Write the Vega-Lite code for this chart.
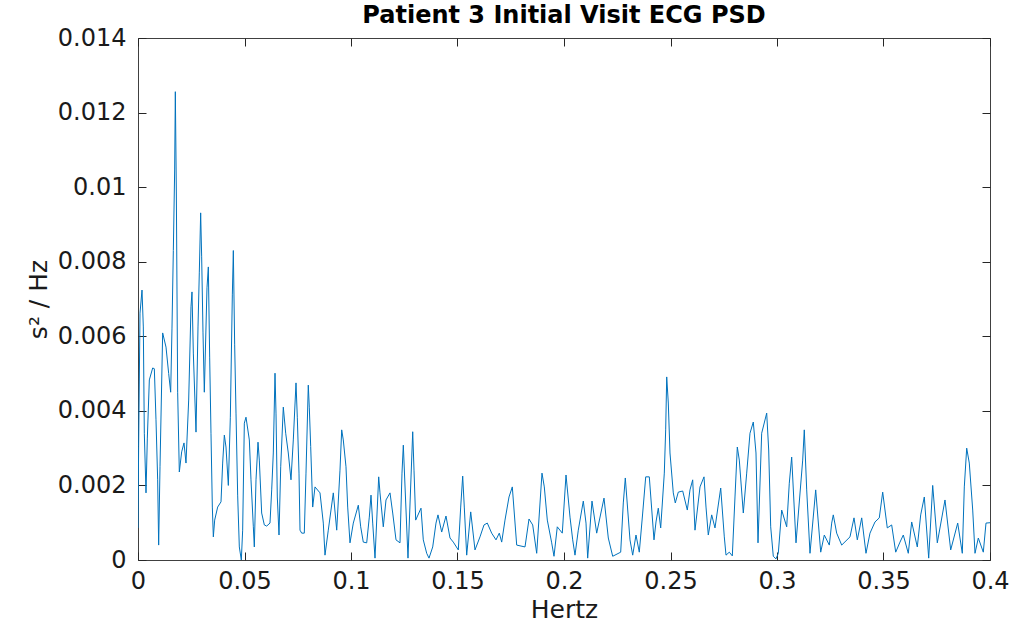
{
  "$schema": "https://vega.github.io/schema/vega-lite/v6.json",
  "width": 852,
  "height": 522,
  "autosize": {"type": "none"},
  "padding": {"left": 138, "top": 38, "right": 23, "bottom": 66},
  "background": "white",
  "title": {"text": "Patient 3 Initial Visit ECG PSD", "fontSize": 24, "fontWeight": "bold", "color": "#000000", "font": "DejaVu Sans", "offset": -2},
  "config": {
    "font": "DejaVu Sans",
    "view": {"stroke": "#404040", "strokeWidth": 1},
    "axis": {"grid": false, "domain": false, "tickSize": -8, "tickColor": "#262626", "tickWidth": 1, "labelFontSize": 24, "labelColor": "#1a1a1a", "titleFontSize": 25, "titleFontWeight": "normal", "titleColor": "#1a1a1a", "labelFont": "DejaVu Sans", "titleFont": "DejaVu Sans"}
  },
  "data": {"values": [
    {"f":0,"p":0.00086},{"f":0.0003,"p":0.00304},{"f":0.00094,"p":0.00662},{"f":0.00188,"p":0.00724},{"f":0.0025,"p":0.00625},{"f":0.00297,"p":0.0034},{"f":0.00376,"p":0.0018},{"f":0.00438,"p":0.00327},{"f":0.00532,"p":0.00483},{"f":0.00689,"p":0.00515},{"f":0.00767,"p":0.00513},{"f":0.00845,"p":0.00376},{"f":0.00923,"p":0.00215},{"f":0.0097,"p":0.0004},{"f":0.01033,"p":0.0025},{"f":0.01158,"p":0.00609},{"f":0.01315,"p":0.00571},{"f":0.0144,"p":0.005},{"f":0.01534,"p":0.0045},{"f":0.01596,"p":0.00622},{"f":0.01659,"p":0.0083},{"f":0.01721,"p":0.01046},{"f":0.01753,"p":0.01256},{"f":0.018,"p":0.00987},{"f":0.01862,"p":0.0045},{"f":0.0194,"p":0.00236},{"f":0.0205,"p":0.0029},{"f":0.0216,"p":0.00314},{"f":0.02253,"p":0.0026},{"f":0.02379,"p":0.00429},{"f":0.02488,"p":0.00679},{"f":0.02535,"p":0.00719},{"f":0.02598,"p":0.00555},{"f":0.02723,"p":0.00343},{"f":0.02817,"p":0.00625},{"f":0.02879,"p":0.00772},{"f":0.02942,"p":0.00931},{"f":0.02989,"p":0.00813},{"f":0.03052,"p":0.00609},{"f":0.03114,"p":0.0045},{"f":0.03177,"p":0.0059},{"f":0.03239,"p":0.0073},{"f":0.03302,"p":0.00786},{"f":0.03365,"p":0.00542},{"f":0.03427,"p":0.0034},{"f":0.0349,"p":0.00142},{"f":0.03537,"p":0.00062},{"f":0.036,"p":0.00107},{"f":0.0374,"p":0.00142},{"f":0.03897,"p":0.00156},{"f":0.03975,"p":0.0026},{"f":0.04053,"p":0.00335},{"f":0.04131,"p":0.00303},{"f":0.04241,"p":0.002},{"f":0.04335,"p":0.00383},{"f":0.04429,"p":0.00711},{"f":0.04476,"p":0.0083},{"f":0.04538,"p":0.00577},{"f":0.04601,"p":0.00394},{"f":0.04679,"p":0.00174},{"f":0.04757,"p":0.00035},{"f":0.04851,"p":0.0},{"f":0.04914,"p":0.0008},{"f":0.04992,"p":0.00367},{"f":0.0507,"p":0.00383},{"f":0.05227,"p":0.00322},{"f":0.05305,"p":0.00215},{"f":0.05415,"p":0.00089},{"f":0.05461,"p":0.00035},{"f":0.0554,"p":0.00215},{"f":0.05634,"p":0.00316},{"f":0.05696,"p":0.00268},{"f":0.05806,"p":0.00126},{"f":0.05931,"p":0.00094},{"f":0.06041,"p":0.00091},{"f":0.06197,"p":0.00099},
    {"f":0.06277,"p":0.00188},{"f":0.06352,"p":0.00287},{"f":0.06432,"p":0.00501},{"f":0.06479,"p":0.00394},{"f":0.0654,"p":0.00169},{"f":0.0662,"p":0.00067},{"f":0.067,"p":0.0025},{"f":0.06822,"p":0.0041},{"f":0.06934,"p":0.0034},{"f":0.07056,"p":0.00287},{"f":0.07183,"p":0.00215},{"f":0.07291,"p":0.00322},{"f":0.07418,"p":0.00475},{"f":0.07479,"p":0.00383},{"f":0.07559,"p":0.00233},{"f":0.07606,"p":0.0008},{"f":0.07685,"p":0.00072},{"f":0.07808,"p":0.00072},{"f":0.07887,"p":0.00233},{"f":0.07995,"p":0.00469},{"f":0.08042,"p":0.0041},{"f":0.08108,"p":0.00304},{"f":0.08202,"p":0.00142},{"f":0.0831,"p":0.00196},{"f":0.08545,"p":0.0018},{"f":0.087,"p":0.00099},{"f":0.08779,"p":0.00013},{"f":0.08934,"p":0.0008},{"f":0.09169,"p":0.0018},{"f":0.09329,"p":0.0008},{"f":0.09483,"p":0.00241},{"f":0.09563,"p":0.00349},{"f":0.09638,"p":0.00322},{"f":0.09765,"p":0.0025},{"f":0.09845,"p":0.00142},{"f":0.09953,"p":0.00046},{"f":0.10108,"p":0.00099},{"f":0.10343,"p":0.00147},{"f":0.10455,"p":0.00089},{"f":0.10577,"p":0.00048},{"f":0.10737,"p":0.00046},{"f":0.10859,"p":0.00115},{"f":0.10939,"p":0.00174},{"f":0.11019,"p":0.00099},{"f":0.11127,"p":0.00005},{"f":0.113,"p":0.00223},{"f":0.11361,"p":0.0018},{"f":0.11516,"p":0.00089},{"f":0.11643,"p":0.00161},{"f":0.11831,"p":0.0018},{"f":0.11958,"p":0.00126},{"f":0.12113,"p":0.00054},{"f":0.123,"p":0.00046},{"f":0.12394,"p":0.00233},{"f":0.12456,"p":0.00308},{"f":0.12676,"p":0.00005},{"f":0.12897,"p":0.00344},{"f":0.12958,"p":0.00241},{"f":0.13037,"p":0.00107},{"f":0.13286,"p":0.00139},{"f":0.13394,"p":0.00054},{"f":0.13554,"p":0.00018},{"f":0.13662,"p":0.00005},{"f":0.13836,"p":0.00035},{"f":0.1399,"p":0.00099},{"f":0.14084,"p":0.00121},{"f":0.14258,"p":0.00075},{"f":0.1446,"p":0.00118},{"f":0.14648,"p":0.00059},{"f":0.14803,"p":0.00048},{"f":0.15038,"p":0.00027},{"f":0.1515,"p":0.00142},{"f":0.15244,"p":0.00225},{"f":0.15319,"p":0.00142},{"f":0.15432,"p":0.00013},{"f":0.1562,"p":0.00129},{"f":0.15821,"p":0.00027},{"f":0.16056,"p":0.00062},{"f":0.16244,"p":0.00094},{"f":0.16399,"p":0.00099},{"f":0.16605,"p":0.00072},{"f":0.16807,"p":0.00054},{"f":0.16962,"p":0.00072},{"f":0.17075,"p":0.00048},{"f":0.1723,"p":0.00107},{"f":0.17418,"p":0.00169},{"f":0.17573,"p":0.00196},{"f":0.17779,"p":0.0004},{"f":0.18169,"p":0.00035},{"f":0.18357,"p":0.0011},{"f":0.1853,"p":0.00094},{"f":0.18718,"p":0.00018},{"f":0.18967,"p":0.00233},{"f":0.19075,"p":0.00196},{"f":0.19216,"p":0.00107},{"f":0.19422,"p":0.00046},{"f":0.1953,"p":0.0001},
    {"f":0.19685,"p":0.00089},{"f":0.1992,"p":0.00072},{"f":0.20094,"p":0.00228},{"f":0.20282,"p":0.00115},{"f":0.20408,"p":0.00054},{"f":0.20516,"p":0.00013},{"f":0.20671,"p":0.0008},{"f":0.20906,"p":0.00158},{"f":0.21033,"p":0.00099},{"f":0.21112,"p":0.00005},{"f":0.21314,"p":0.00158},{"f":0.21535,"p":0.00072},{"f":0.21878,"p":0.00166},{"f":0.2208,"p":0.00059},{"f":0.22286,"p":0.0001},{"f":0.22662,"p":0.00021},{"f":0.22784,"p":0.00153},{"f":0.22878,"p":0.0022},{"f":0.23098,"p":0.00054},{"f":0.23225,"p":0.00013},{"f":0.2338,"p":0.00067},{"f":0.23535,"p":0.00021},{"f":0.23695,"p":0.00126},{"f":0.23836,"p":0.00223},{"f":0.24005,"p":0.00223},{"f":0.24225,"p":0.00054},{"f":0.24319,"p":0.00102},{"f":0.24427,"p":0.00139},{"f":0.2454,"p":0.00086},{"f":0.24709,"p":0.00233},{"f":0.24774,"p":0.00349},{"f":0.24822,"p":0.00491},{"f":0.24897,"p":0.00421},{"f":0.24976,"p":0.00287},{"f":0.25131,"p":0.0018},{"f":0.25225,"p":0.00153},{"f":0.25366,"p":0.00182},{"f":0.25573,"p":0.00185},{"f":0.25789,"p":0.00134},{"f":0.25915,"p":0.00188},{"f":0.26042,"p":0.00215},{"f":0.2615,"p":0.0008},
    {"f":0.26385,"p":0.00196},{"f":0.26573,"p":0.00223},{"f":0.26667,"p":0.00142},{"f":0.26774,"p":0.00067},{"f":0.26934,"p":0.00121},{"f":0.27089,"p":0.00086},{"f":0.27357,"p":0.00193},{"f":0.27526,"p":0.00062},{"f":0.27606,"p":0.00013},{"f":0.27761,"p":0.00021},{"f":0.27902,"p":0.00011},{"f":0.28028,"p":0.00169},{"f":0.28136,"p":0.00303},{"f":0.2823,"p":0.00268},{"f":0.28418,"p":0.00126},{"f":0.28577,"p":0.00233},{"f":0.28732,"p":0.0034},{"f":0.28887,"p":0.0037},{"f":0.29014,"p":0.00287},{"f":0.29108,"p":0.00046},{"f":0.29281,"p":0.0034},{"f":0.29516,"p":0.00394},{"f":0.2961,"p":0.00295},{"f":0.29704,"p":0.00089},{"f":0.29826,"p":0.0001},{"f":0.29953,"p":0.00003},{"f":0.30061,"p":0.00018},{"f":0.3022,"p":0.00134},{"f":0.30455,"p":0.00089},{"f":0.30577,"p":0.00206},{"f":0.30689,"p":0.00276},{"f":0.30892,"p":0.00046},{"f":0.31206,"p":0.00268},{"f":0.31281,"p":0.00349},{"f":0.31394,"p":0.00188},{"f":0.31549,"p":0.00018},{"f":0.31817,"p":0.00188},{"f":0.32052,"p":0.00021},{"f":0.32221,"p":0.00067},{"f":0.32456,"p":0.0004},{"f":0.32568,"p":0.00099},
    {"f":0.32643,"p":0.00121},{"f":0.32802,"p":0.00072},{"f":0.33037,"p":0.0004},{"f":0.33427,"p":0.00062},{"f":0.33615,"p":0.00113},{"f":0.3377,"p":0.00054},{"f":0.33977,"p":0.00113},{"f":0.34178,"p":0.00018},{"f":0.34366,"p":0.00072},{"f":0.346,"p":0.00102},{"f":0.34802,"p":0.00113},{"f":0.34962,"p":0.00182},{"f":0.35178,"p":0.00086},{"f":0.35384,"p":0.00094},{"f":0.35573,"p":0.00021},{"f":0.35774,"p":0.00048},{"f":0.3593,"p":0.00067},{"f":0.36164,"p":0.00018},{"f":0.36324,"p":0.00102},{"f":0.36587,"p":0.00035},{"f":0.36746,"p":0.00121},{"f":0.36916,"p":0.00169},{"f":0.37122,"p":0.00005},{"f":0.3731,"p":0.002},{"f":0.37526,"p":0.00046},{"f":0.37887,"p":0.00161},{"f":0.38155,"p":0.00027},{"f":0.38484,"p":0.00099},{"f":0.387,"p":0.00018},{"f":0.38794,"p":0.00196},{"f":0.38906,"p":0.003},{"f":0.39028,"p":0.0026},{"f":0.39188,"p":0.00134},{"f":0.39296,"p":0.00018},{"f":0.39451,"p":0.00059},{"f":0.39686,"p":0.00021},{"f":0.39812,"p":0.00099},{"f":0.4,"p":0.001}
  ]},
  "layer": [
    {
      "mark": {"type": "line", "color": "#0072BD", "strokeWidth": 1, "clip": true},
      "encoding": {
        "x": {"field": "f", "type": "quantitative", "scale": {"domain": [0, 0.4], "nice": false, "zero": false},
              "axis": {"orient": "bottom", "title": "Hertz", "values": [0,0.05,0.1,0.15,0.2,0.25,0.3,0.35,0.4], "format": "~g", "labelPadding": 17, "titlePadding": 4, "labelFlush": false}},
        "y": {"field": "p", "type": "quantitative", "scale": {"domain": [0, 0.014], "nice": false},
              "axis": {"orient": "left", "title": "s² / Hz", "values": [0,0.002,0.004,0.006,0.008,0.01,0.012,0.014], "format": "~g", "labelPadding": 20, "titlePadding": 6, "labelFlush": false}}
      }
    },
    {
      "mark": {"type": "line", "opacity": 0},
      "encoding": {
        "x": {"field": "f", "type": "quantitative", "axis": {"orient": "top", "labels": false, "title": null, "values": [0,0.05,0.1,0.15,0.2,0.25,0.3,0.35,0.4]}},
        "y": {"field": "p", "type": "quantitative", "axis": {"orient": "right", "labels": false, "title": null, "values": [0,0.002,0.004,0.006,0.008,0.01,0.012,0.014]}}
      }
    }
  ],
  "resolve": {"axis": {"x": "independent", "y": "independent"}}
}
